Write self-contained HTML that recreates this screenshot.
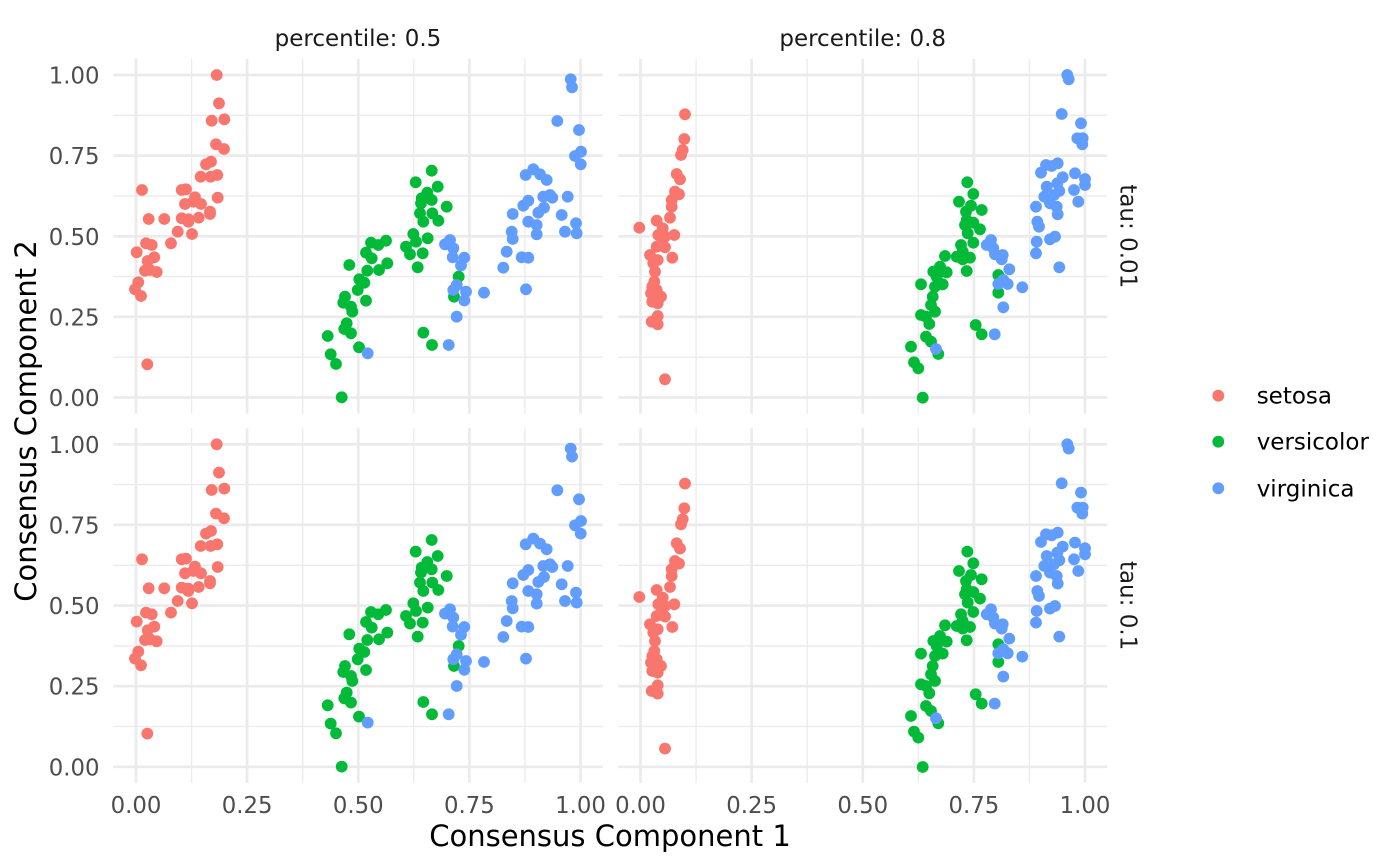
<!DOCTYPE html>
<html>
<head>
<meta charset="utf-8">
<style>
  html, body { margin: 0; padding: 0; background: #ffffff; }
  svg { display: block; }
  text { font-family: "DejaVu Sans", "Liberation Sans", sans-serif; }
  circle { }
</style>
</head>
<body>
<svg width="1400" height="866" viewBox="0 0 1400 866" xmlns="http://www.w3.org/2000/svg">
  <rect x="0" y="0" width="1400" height="866" fill="#ffffff"/>
  <defs>
    <g id="row">
      <!-- minor grid -->
      <g stroke="#EBEBEB" stroke-width="1.35">
        <line x1="113.3" x2="602.7" y1="115.3" y2="115.3"/>
        <line x1="113.3" x2="602.7" y1="196" y2="196"/>
        <line x1="113.3" x2="602.7" y1="276.6" y2="276.6"/>
        <line x1="113.3" x2="602.7" y1="357.2" y2="357.2"/>
        <line x1="191.6" x2="191.6" y1="58.9" y2="413.6"/>
        <line x1="302.7" x2="302.7" y1="58.9" y2="413.6"/>
        <line x1="413.8" x2="413.8" y1="58.9" y2="413.6"/>
        <line x1="524.9" x2="524.9" y1="58.9" y2="413.6"/>
        <line x1="618.3" x2="1107.2" y1="115.3" y2="115.3"/>
        <line x1="618.3" x2="1107.2" y1="196" y2="196"/>
        <line x1="618.3" x2="1107.2" y1="276.6" y2="276.6"/>
        <line x1="618.3" x2="1107.2" y1="357.2" y2="357.2"/>
        <line x1="696.1" x2="696.1" y1="58.9" y2="413.6"/>
        <line x1="807.2" x2="807.2" y1="58.9" y2="413.6"/>
        <line x1="918.3" x2="918.3" y1="58.9" y2="413.6"/>
        <line x1="1029.4" x2="1029.4" y1="58.9" y2="413.6"/>
      </g>
      <!-- major grid -->
      <g stroke="#EBEBEB" stroke-width="2.7">
        <line x1="113.3" x2="602.7" y1="75" y2="75"/>
        <line x1="113.3" x2="602.7" y1="155.6" y2="155.6"/>
        <line x1="113.3" x2="602.7" y1="236.3" y2="236.3"/>
        <line x1="113.3" x2="602.7" y1="316.9" y2="316.9"/>
        <line x1="113.3" x2="602.7" y1="397.5" y2="397.5"/>
        <line x1="136" x2="136" y1="58.9" y2="413.6"/>
        <line x1="247.1" x2="247.1" y1="58.9" y2="413.6"/>
        <line x1="358.3" x2="358.3" y1="58.9" y2="413.6"/>
        <line x1="469.4" x2="469.4" y1="58.9" y2="413.6"/>
        <line x1="580.5" x2="580.5" y1="58.9" y2="413.6"/>
        <line x1="618.3" x2="1107.2" y1="75" y2="75"/>
        <line x1="618.3" x2="1107.2" y1="155.6" y2="155.6"/>
        <line x1="618.3" x2="1107.2" y1="236.3" y2="236.3"/>
        <line x1="618.3" x2="1107.2" y1="316.9" y2="316.9"/>
        <line x1="618.3" x2="1107.2" y1="397.5" y2="397.5"/>
        <line x1="640.5" x2="640.5" y1="58.9" y2="413.6"/>
        <line x1="751.6" x2="751.6" y1="58.9" y2="413.6"/>
        <line x1="862.8" x2="862.8" y1="58.9" y2="413.6"/>
        <line x1="973.9" x2="973.9" y1="58.9" y2="413.6"/>
        <line x1="1085" x2="1085" y1="58.9" y2="413.6"/>
      </g>
      <!-- setosa left -->
      <g fill="#F8766D">
        <circle cx="216.7" cy="75" r="5.9"/><circle cx="219" cy="103.3" r="5.9"/><circle cx="211.7" cy="120.7" r="5.9"/><circle cx="224.3" cy="119.3" r="5.9"/>
        <circle cx="216" cy="144.3" r="5.9"/><circle cx="224" cy="149" r="5.9"/><circle cx="206" cy="164.3" r="5.9"/><circle cx="211" cy="161.7" r="5.9"/>
        <circle cx="200.7" cy="176.7" r="5.9"/><circle cx="210.7" cy="176.7" r="5.9"/><circle cx="217.3" cy="175" r="5.9"/><circle cx="142" cy="190" r="5.9"/>
        <circle cx="181.7" cy="190" r="5.9"/><circle cx="186" cy="189.3" r="5.9"/><circle cx="217.7" cy="197.7" r="5.9"/><circle cx="195" cy="197.3" r="5.9"/>
        <circle cx="185" cy="204" r="5.9"/><circle cx="201" cy="204" r="5.9"/><circle cx="193.3" cy="201.7" r="5.9"/><circle cx="210" cy="211.7" r="5.9"/>
        <circle cx="210" cy="214" r="5.9"/><circle cx="148.7" cy="219" r="5.9"/><circle cx="164.3" cy="219" r="5.9"/><circle cx="181.7" cy="218.3" r="5.9"/>
        <circle cx="188.3" cy="219.3" r="5.9"/><circle cx="198.7" cy="217.7" r="5.9"/><circle cx="188.3" cy="221.7" r="5.9"/><circle cx="177.7" cy="231.7" r="5.9"/>
        <circle cx="192" cy="234" r="5.9"/><circle cx="171" cy="243.3" r="5.9"/><circle cx="146" cy="243.3" r="5.9"/><circle cx="151.7" cy="245" r="5.9"/>
        <circle cx="136.7" cy="252.3" r="5.9"/><circle cx="154.3" cy="257.3" r="5.9"/><circle cx="147.7" cy="261" r="5.9"/><circle cx="145" cy="270.7" r="5.9"/>
        <circle cx="156.7" cy="272" r="5.9"/><circle cx="150" cy="270" r="5.9"/><circle cx="138.3" cy="282.3" r="5.9"/><circle cx="135" cy="289.3" r="5.9"/>
        <circle cx="141" cy="296" r="5.9"/><circle cx="147.3" cy="364.3" r="5.9"/>
      </g>
      <!-- versicolor left -->
      <g fill="#00BA38">
        <circle cx="431.7" cy="170.7" r="5.9"/><circle cx="415.7" cy="182.3" r="5.9"/><circle cx="437.7" cy="186.7" r="5.9"/><circle cx="427.3" cy="192.7" r="5.9"/>
        <circle cx="421.7" cy="198.3" r="5.9"/><circle cx="431.7" cy="200" r="5.9"/><circle cx="421" cy="203.3" r="5.9"/><circle cx="446.7" cy="206.7" r="5.9"/>
        <circle cx="420" cy="213.3" r="5.9"/><circle cx="432.3" cy="213.3" r="5.9"/><circle cx="438.3" cy="220.7" r="5.9"/><circle cx="423.3" cy="221.7" r="5.9"/>
        <circle cx="413.3" cy="234" r="5.9"/><circle cx="427.7" cy="238.3" r="5.9"/><circle cx="416" cy="241.7" r="5.9"/><circle cx="406" cy="246.7" r="5.9"/>
        <circle cx="410" cy="254.3" r="5.9"/><circle cx="422.7" cy="253.3" r="5.9"/><circle cx="417.7" cy="267.3" r="5.9"/><circle cx="386" cy="240.7" r="5.9"/>
        <circle cx="371" cy="242.7" r="5.9"/><circle cx="378.3" cy="245" r="5.9"/><circle cx="366" cy="252.7" r="5.9"/><circle cx="371.7" cy="258.3" r="5.9"/>
        <circle cx="387.3" cy="263.3" r="5.9"/><circle cx="349.3" cy="265" r="5.9"/><circle cx="379" cy="270" r="5.9"/><circle cx="367.3" cy="270.7" r="5.9"/>
        <circle cx="359.3" cy="279.3" r="5.9"/><circle cx="364.3" cy="282.7" r="5.9"/><circle cx="357.7" cy="290" r="5.9"/><circle cx="345" cy="296.7" r="5.9"/>
        <circle cx="366" cy="300.7" r="5.9"/><circle cx="343.3" cy="302.7" r="5.9"/><circle cx="351" cy="306.7" r="5.9"/><circle cx="352.3" cy="311.7" r="5.9"/>
        <circle cx="346.7" cy="323.3" r="5.9"/><circle cx="344.3" cy="329" r="5.9"/><circle cx="351" cy="333.3" r="5.9"/><circle cx="327.7" cy="336" r="5.9"/>
        <circle cx="359" cy="347.3" r="5.9"/><circle cx="330.7" cy="354.3" r="5.9"/><circle cx="336" cy="364" r="5.9"/><circle cx="341.7" cy="397.3" r="5.9"/>
        <circle cx="458.7" cy="276.7" r="5.9"/><circle cx="454" cy="296.7" r="5.9"/><circle cx="423.3" cy="332.7" r="5.9"/><circle cx="432" cy="345" r="5.9"/>
      </g>
      <!-- virginica left -->
      <g fill="#619CFF">
        <circle cx="570.7" cy="79.3" r="5.9"/><circle cx="572" cy="87.3" r="5.9"/><circle cx="557.3" cy="121" r="5.9"/><circle cx="579" cy="130" r="5.9"/>
        <circle cx="581" cy="151.7" r="5.9"/><circle cx="575" cy="156" r="5.9"/><circle cx="580.7" cy="164.3" r="5.9"/><circle cx="533.3" cy="169.3" r="5.9"/>
        <circle cx="525.7" cy="175" r="5.9"/><circle cx="540" cy="174.3" r="5.9"/><circle cx="546.7" cy="180" r="5.9"/><circle cx="550" cy="195" r="5.9"/>
        <circle cx="543.3" cy="196.7" r="5.9"/><circle cx="567.7" cy="196.7" r="5.9"/><circle cx="552.3" cy="197.7" r="5.9"/><circle cx="528.3" cy="200.7" r="5.9"/>
        <circle cx="523.3" cy="205.7" r="5.9"/><circle cx="544" cy="207.7" r="5.9"/><circle cx="538.3" cy="212.7" r="5.9"/><circle cx="512.7" cy="214" r="5.9"/>
        <circle cx="561.7" cy="215" r="5.9"/><circle cx="528.3" cy="221.7" r="5.9"/><circle cx="536.7" cy="225" r="5.9"/><circle cx="576" cy="223.3" r="5.9"/>
        <circle cx="511.7" cy="231.7" r="5.9"/><circle cx="512.7" cy="239" r="5.9"/><circle cx="536.7" cy="234.3" r="5.9"/><circle cx="565" cy="231.7" r="5.9"/>
        <circle cx="576.7" cy="233.3" r="5.9"/><circle cx="506.7" cy="251.7" r="5.9"/><circle cx="521.7" cy="257.3" r="5.9"/><circle cx="528.3" cy="257.7" r="5.9"/>
        <circle cx="503.3" cy="267.7" r="5.9"/><circle cx="526" cy="289.3" r="5.9"/>
        <circle cx="450" cy="240" r="5.9"/><circle cx="445" cy="244.3" r="5.9"/><circle cx="453.3" cy="248.3" r="5.9"/><circle cx="452.7" cy="257.3" r="5.9"/>
        <circle cx="464.3" cy="257.7" r="5.9"/><circle cx="461" cy="265.5" r="5.9"/><circle cx="453.3" cy="290" r="5.9"/><circle cx="456.7" cy="285" r="5.9"/>
        <circle cx="466" cy="291.7" r="5.9"/><circle cx="464.3" cy="300.5" r="5.9"/><circle cx="484" cy="292.7" r="5.9"/><circle cx="456.7" cy="316.7" r="5.9"/>
        <circle cx="448.7" cy="345" r="5.9"/><circle cx="367.7" cy="353.3" r="5.9"/>
      </g>
      <!-- setosa right -->
      <g fill="#F8766D">
        <circle cx="685" cy="114.3" r="5.9"/><circle cx="684.3" cy="139" r="5.9"/><circle cx="682.7" cy="150" r="5.9"/><circle cx="681" cy="155" r="5.9"/>
        <circle cx="676.7" cy="174" r="5.9"/><circle cx="680" cy="179.3" r="5.9"/><circle cx="675" cy="191.7" r="5.9"/><circle cx="679" cy="194.3" r="5.9"/>
        <circle cx="671.7" cy="200" r="5.9"/><circle cx="671.7" cy="206.7" r="5.9"/><circle cx="670" cy="217.7" r="5.9"/><circle cx="656.7" cy="220.7" r="5.9"/>
        <circle cx="639.3" cy="227.7" r="5.9"/><circle cx="662.7" cy="228.3" r="5.9"/><circle cx="674.3" cy="235" r="5.9"/><circle cx="658.3" cy="235" r="5.9"/>
        <circle cx="665" cy="236.7" r="5.9"/><circle cx="661.7" cy="243.3" r="5.9"/><circle cx="656.7" cy="246.7" r="5.9"/><circle cx="665" cy="247.3" r="5.9"/>
        <circle cx="672.3" cy="257.7" r="5.9"/><circle cx="650" cy="255" r="5.9"/><circle cx="657.7" cy="260" r="5.9"/><circle cx="653.3" cy="263.3" r="5.9"/>
        <circle cx="655" cy="271.7" r="5.9"/><circle cx="654.3" cy="281.7" r="5.9"/><circle cx="652.3" cy="286.7" r="5.9"/><circle cx="656.7" cy="290" r="5.9"/>
        <circle cx="651" cy="293.3" r="5.9"/><circle cx="661" cy="296.7" r="5.9"/><circle cx="652.3" cy="301.7" r="5.9"/><circle cx="657.7" cy="303.3" r="5.9"/>
        <circle cx="657.7" cy="316" r="5.9"/><circle cx="651.7" cy="321.7" r="5.9"/><circle cx="657.7" cy="324.3" r="5.9"/><circle cx="665" cy="379.3" r="5.9"/>
      </g>
      <!-- versicolor right -->
      <g fill="#00BA38">
        <circle cx="967.3" cy="182.3" r="5.9"/><circle cx="973.3" cy="194" r="5.9"/><circle cx="959" cy="201.7" r="5.9"/><circle cx="971" cy="205.7" r="5.9"/>
        <circle cx="981.7" cy="210" r="5.9"/><circle cx="966" cy="211.7" r="5.9"/><circle cx="966.7" cy="220" r="5.9"/><circle cx="973.3" cy="222.7" r="5.9"/>
        <circle cx="965" cy="225" r="5.9"/><circle cx="980" cy="229.3" r="5.9"/><circle cx="967.7" cy="233.3" r="5.9"/><circle cx="973.3" cy="242.7" r="5.9"/>
        <circle cx="961" cy="245" r="5.9"/><circle cx="962.7" cy="251.7" r="5.9"/><circle cx="956.7" cy="256.7" r="5.9"/><circle cx="970" cy="257.7" r="5.9"/>
        <circle cx="945" cy="256" r="5.9"/><circle cx="962.7" cy="259.3" r="5.9"/><circle cx="940" cy="266.7" r="5.9"/><circle cx="946.7" cy="272.3" r="5.9"/>
        <circle cx="933.3" cy="271.7" r="5.9"/><circle cx="966.7" cy="271" r="5.9"/><circle cx="936.7" cy="276.7" r="5.9"/><circle cx="942.7" cy="284.3" r="5.9"/>
        <circle cx="921" cy="284.3" r="5.9"/><circle cx="935" cy="286.7" r="5.9"/><circle cx="932.7" cy="296.7" r="5.9"/><circle cx="931" cy="305" r="5.9"/>
        <circle cx="935" cy="311.7" r="5.9"/><circle cx="921" cy="315" r="5.9"/><circle cx="926" cy="316.7" r="5.9"/><circle cx="929.3" cy="324" r="5.9"/>
        <circle cx="926" cy="336.7" r="5.9"/><circle cx="931" cy="341.7" r="5.9"/><circle cx="911" cy="346.7" r="5.9"/><circle cx="938.3" cy="354" r="5.9"/>
        <circle cx="914" cy="362.3" r="5.9"/><circle cx="918.3" cy="368.3" r="5.9"/><circle cx="922.7" cy="397.7" r="5.9"/><circle cx="975.7" cy="325" r="5.9"/>
        <circle cx="981.7" cy="334.3" r="5.9"/><circle cx="998.3" cy="275" r="5.9"/><circle cx="998.3" cy="292.7" r="5.9"/>
      </g>
      <!-- virginica right -->
      <g fill="#619CFF">
        <circle cx="1067.3" cy="75" r="5.9"/><circle cx="1068.7" cy="79.3" r="5.9"/><circle cx="1061.7" cy="114" r="5.9"/><circle cx="1081" cy="123.3" r="5.9"/>
        <circle cx="1077.3" cy="138.3" r="5.9"/><circle cx="1082.7" cy="138.3" r="5.9"/><circle cx="1082.3" cy="144.3" r="5.9"/><circle cx="1046" cy="165" r="5.9"/>
        <circle cx="1057.7" cy="163.3" r="5.9"/><circle cx="1051.7" cy="166" r="5.9"/><circle cx="1041" cy="172.7" r="5.9"/><circle cx="1075" cy="173.3" r="5.9"/>
        <circle cx="1085" cy="179" r="5.9"/><circle cx="1062.7" cy="177.3" r="5.9"/><circle cx="1057.3" cy="183.3" r="5.9"/><circle cx="1085" cy="185" r="5.9"/>
        <circle cx="1046.7" cy="186.7" r="5.9"/><circle cx="1074" cy="190" r="5.9"/><circle cx="1059.3" cy="191" r="5.9"/><circle cx="1054" cy="195" r="5.9"/>
        <circle cx="1044.3" cy="196.7" r="5.9"/><circle cx="1078.3" cy="201.7" r="5.9"/><circle cx="1050" cy="203.3" r="5.9"/><circle cx="1056.7" cy="206.7" r="5.9"/>
        <circle cx="1036" cy="206.7" r="5.9"/><circle cx="1057.7" cy="214.3" r="5.9"/><circle cx="1037.3" cy="221.7" r="5.9"/><circle cx="1039" cy="226.7" r="5.9"/>
        <circle cx="1055" cy="236.7" r="5.9"/><circle cx="1050" cy="239.3" r="5.9"/><circle cx="1036.7" cy="241.7" r="5.9"/><circle cx="1036" cy="253.3" r="5.9"/>
        <circle cx="1059.3" cy="267.3" r="5.9"/><circle cx="991" cy="240" r="5.9"/><circle cx="986.7" cy="245" r="5.9"/><circle cx="993.3" cy="248.3" r="5.9"/>
        <circle cx="1002.7" cy="255" r="5.9"/><circle cx="995" cy="254.3" r="5.9"/><circle cx="1001.7" cy="259.3" r="5.9"/><circle cx="1009.3" cy="269.3" r="5.9"/>
        <circle cx="1003.3" cy="280" r="5.9"/><circle cx="998.3" cy="284" r="5.9"/><circle cx="1007.7" cy="284" r="5.9"/><circle cx="1022.3" cy="287.3" r="5.9"/>
        <circle cx="1003.3" cy="307.3" r="5.9"/><circle cx="994.7" cy="334.3" r="5.9"/><circle cx="936" cy="349" r="5.9"/>
      </g>
    </g>
  </defs>

  <use href="#row" x="0" y="0"/>
  <use href="#row" x="0" y="369.3"/>

  <!-- strip labels top -->
  <g font-size="23" fill="#1A1A1A" text-anchor="middle">
    <text x="358" y="46">percentile: 0.5</text>
    <text x="862.7" y="46">percentile: 0.8</text>
  </g>
  <!-- strip labels right -->
  <g font-size="23" fill="#1A1A1A" text-anchor="middle">
    <text transform="translate(1120.5,236.3) rotate(90)">tau: 0.01</text>
    <text transform="translate(1120.5,605.6) rotate(90)">tau: 0.1</text>
  </g>

  <!-- y tick labels -->
  <g font-size="22.8" fill="#4D4D4D" text-anchor="end">
    <text x="99.5" y="83.5">1.00</text>
    <text x="99.5" y="164.1">0.75</text>
    <text x="99.5" y="244.8">0.50</text>
    <text x="99.5" y="325.4">0.25</text>
    <text x="99.5" y="406">0.00</text>
    <text x="99.5" y="452.8">1.00</text>
    <text x="99.5" y="533.4">0.75</text>
    <text x="99.5" y="614.1">0.50</text>
    <text x="99.5" y="694.7">0.25</text>
    <text x="99.5" y="775.3">0.00</text>
  </g>

  <!-- x tick labels -->
  <g font-size="22.8" fill="#4D4D4D" text-anchor="middle">
    <text x="136" y="813">0.00</text>
    <text x="247.1" y="813">0.25</text>
    <text x="358.3" y="813">0.50</text>
    <text x="469.4" y="813">0.75</text>
    <text x="580.5" y="813">1.00</text>
    <text x="640.5" y="813">0.00</text>
    <text x="751.6" y="813">0.25</text>
    <text x="862.8" y="813">0.50</text>
    <text x="973.9" y="813">0.75</text>
    <text x="1085" y="813">1.00</text>
  </g>

  <!-- axis titles -->
  <text x="610" y="846" font-size="29" fill="#000000" text-anchor="middle">Consensus Component 1</text>
  <text transform="translate(36,421) rotate(-90)" font-size="29" fill="#000000" text-anchor="middle">Consensus Component 2</text>

  <!-- legend -->
  <circle cx="1218.3" cy="395.7" r="5.9" fill="#F8766D"/>
  <circle cx="1218.3" cy="441.7" r="5.9" fill="#00BA38"/>
  <circle cx="1218.3" cy="488.3" r="5.9" fill="#619CFF"/>
  <g font-size="23" fill="#000000">
    <text x="1256.7" y="403.7">setosa</text>
    <text x="1256.7" y="449.7">versicolor</text>
    <text x="1256.7" y="496.3">virginica</text>
  </g>
</svg>
</body>
</html>
